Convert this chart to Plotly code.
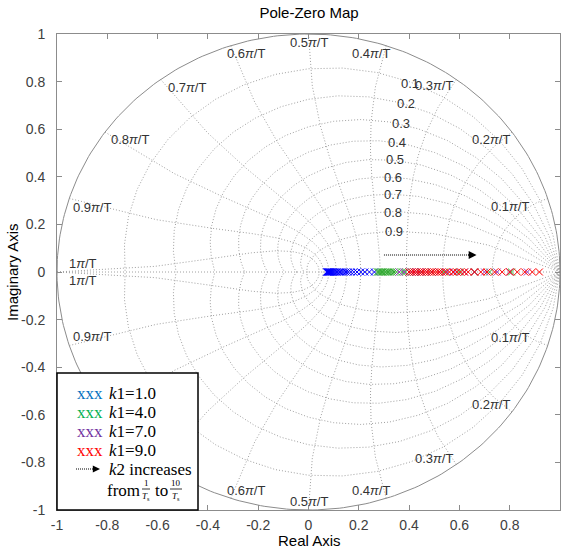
import numpy as np
import plotly.graph_objects as go

# ---------------- data ----------------
k1_labels = ["k1=1.0", "k1=4.0", "k1=7.0", "k1=9.0"]
poles_k1_1 = [0.072, 0.074, 0.076, 0.078, 0.080, 0.082, 0.084, 0.086, 0.089, 0.092,
              0.095, 0.099, 0.103, 0.108, 0.113, 0.119, 0.125, 0.132, 0.140, 0.149,
              0.158, 0.168, 0.180, 0.193, 0.208, 0.224, 0.242, 0.262]
poles_k1_4 = [0.274, 0.278, 0.282, 0.287, 0.292, 0.297, 0.303, 0.309, 0.316, 0.323,
              0.331, 0.340, 0.350, 0.361, 0.373, 0.386, 0.400, 0.420, 0.450, 0.490,
              0.540, 0.600, 0.660, 0.720, 0.807]
poles_k1_7 = [0.360, 0.380, 0.400, 0.410, 0.420, 0.430, 0.440, 0.450, 0.470, 0.490,
              0.520, 0.550, 0.580, 0.620, 0.660, 0.700, 0.750, 0.800, 0.870]
poles_k1_9 = [0.400, 0.410, 0.420, 0.430, 0.440, 0.450, 0.460, 0.470, 0.480, 0.490,
              0.500, 0.510, 0.520, 0.530, 0.545, 0.560, 0.575, 0.590, 0.605, 0.620,
              0.635, 0.660, 0.685, 0.710, 0.740, 0.770, 0.800, 0.830, 0.860, 0.890, 0.918]
marker_colors = ["#0000FF", "#33AA33", "#A040C0", "#FF0000"]
legend_colors = ["#0070C0", "#00B050", "#7030A0", "#FF0000"]

tick_vals = [-1, -0.8, -0.6, -0.4, -0.2, 0, 0.2, 0.4, 0.6, 0.8, 1]
tick_text = ["-1", "-0.8", "-0.6", "-0.4", "-0.2", "0", "0.2", "0.4", "0.6", "0.8", "1"]

zeta_vals = [0.1, 0.2, 0.3, 0.4, 0.5, 0.6, 0.7, 0.8, 0.9]
wn_vals = [0.1, 0.2, 0.3, 0.4, 0.5, 0.6, 0.7, 0.8, 0.9, 1.0]
wn_texts = ["0.1", "0.2", "0.3", "0.4", "0.5", "0.6", "0.7", "0.8", "0.9", "1"]

# label positions (data coords, upper half; lower half mirrored)
wn_label_pos = [(0.801, 0.277), (0.726, 0.555), (0.498, 0.782), (0.249, 0.920),
                (0.002, 0.966), (-0.249, 0.920), (-0.483, 0.777), (-0.710, 0.555),
                (-0.861, 0.273), (-0.897, 0.034)]
zeta_label_pos = [(0.404, 0.794), (0.388, 0.710), (0.368, 0.626), (0.352, 0.546),
                  (0.344, 0.471), (0.336, 0.399), (0.336, 0.324), (0.336, 0.248),
                  (0.340, 0.172)]

# ---------------- layout constants ----------------
W, H = 563, 549
ML, MR, MT, MB = 57, 3, 34, 39
PW, PH = W - ML - MR, H - MT - MB

# legend box (pixels)
BOX_L, BOX_R, BOX_T, BOX_B = 57, 198, 373, 510


def pxx(px):
    return (px - ML) / PW


def pxy(py):
    return (H - MB - py) / PH


def to_px(x, y):
    return ML + (x + 1) / 2 * PW, MT + (1 - y) / 2 * PH


GRID = "#A0A0A0"
fig = go.Figure()

# ---------------- zgrid ----------------
gx, gy = [], []
theta = np.arange(0, 21) * np.pi / 20
for z in zeta_vals:
    m = z / np.sqrt(1 - z ** 2)
    zz = np.exp(theta * (-m + 1j))
    gx += list(zz.real) + [None] + list(zz.real) + [None]
    gy += list(zz.imag) + [None] + list(-zz.imag) + [None]
phi = np.pi / 2 + np.arange(0, 11) * np.pi / 20
for w in wn_vals:
    zz = np.exp(w * np.pi * np.exp(1j * phi))
    gx += list(zz.real) + [None] + list(zz.real) + [None]
    gy += list(zz.imag) + [None] + list(-zz.imag) + [None]
gx += [-1, 1, None]
gy += [0, 0, None]
fig.add_trace(go.Scatter(x=gx, y=gy, mode="lines", hoverinfo="skip", showlegend=False,
                         line=dict(color=GRID, width=1, dash="1px,2px")))
t = np.linspace(0, 2 * np.pi, 361)
fig.add_trace(go.Scatter(x=np.cos(t), y=np.sin(t), mode="lines", hoverinfo="skip",
                         showlegend=False, line=dict(color="#8C8C8C", width=1)))

# ---------------- poles ----------------
for vals, col, lab in zip([poles_k1_1, poles_k1_4, poles_k1_7, poles_k1_9], marker_colors, k1_labels):
    fig.add_trace(go.Scatter(x=vals, y=[0] * len(vals), mode="markers", name=lab, showlegend=False,
                             marker=dict(symbol="x-thin", size=7, line=dict(color=col, width=1))))

ann = []
FONT = "Liberation Sans, Arial, sans-serif"
SERIF = "Liberation Serif, Times New Roman, serif"
for (x, y), tx in zip(wn_label_pos, wn_texts):
    for sgn in (1, -1):
        px, py = to_px(x, sgn * y)
        if BOX_L - 5 <= px <= BOX_R + 5 and py >= BOX_T - 3:
            continue  # hidden behind the legend box in the reference
        ann.append(dict(x=x, y=sgn * y, xref="x", yref="y", text=tx + "<i>π</i>/T", showarrow=False,
                        font=dict(family=FONT, size=13, color="#333333"), xanchor="center", yanchor="middle"))
for (x, y), z in zip(zeta_label_pos, zeta_vals):
    ann.append(dict(x=x, y=y, xref="x", yref="y", text=f"{z:.1f}", showarrow=False,
                    font=dict(family=FONT, size=13, color="#333333"), xanchor="center", yanchor="middle"))

# arrow in plot
fig.add_shape(type="line", x0=0.30, x1=0.655, y0=0.0714, y1=0.0714, xref="x", yref="y",
              line=dict(color="black", width=1, dash="1px,1px"))
ann.append(dict(x=0.668, y=0.0714, xref="x", yref="y", ax=-10, ay=0, axref="pixel", ayref="pixel",
                text="", showarrow=True, arrowhead=2, arrowsize=1.3, arrowwidth=1.2, arrowcolor="black"))

# ---------------- custom legend box ----------------
fig.add_shape(type="rect", xref="paper", yref="paper", x0=pxx(BOX_L), x1=pxx(BOX_R), y0=pxy(BOX_B),
              y1=pxy(BOX_T), fillcolor="white", line=dict(color="black", width=1.5), layer="above")
row_y = [393, 412, 431, 450]
for yy, col, lab in zip(row_y, legend_colors, k1_labels):
    ann.append(dict(x=pxx(75), y=pxy(yy), xref="paper", yref="paper", text="xxx", showarrow=False,
                    font=dict(family=SERIF, size=17, color=col), xanchor="left", yanchor="middle"))
    ann.append(dict(x=pxx(107), y=pxy(yy), xref="paper", yref="paper",
                    text="<i>k</i>" + lab[1:], showarrow=False,
                    font=dict(family=SERIF, size=17, color="black"), xanchor="left", yanchor="middle"))
fig.add_shape(type="line", xref="paper", yref="paper", x0=pxx(76), x1=pxx(93), y0=pxy(469), y1=pxy(469),
              line=dict(color="black", width=1, dash="1px,1px"), layer="above")
ann.append(dict(x=pxx(100), y=pxy(469), xref="paper", yref="paper", ax=-8, ay=0, axref="pixel", ayref="pixel",
                text="", showarrow=True, arrowhead=2, arrowsize=1.2, arrowwidth=1.2, arrowcolor="black"))
ann.append(dict(x=pxx(107), y=pxy(469), xref="paper", yref="paper", text="<i>k</i>2 increases",
                showarrow=False, font=dict(family=SERIF, size=17, color="black"),
                xanchor="left", yanchor="middle"))
ann.append(dict(x=pxx(105), y=pxy(490), xref="paper", yref="paper", text="from", showarrow=False,
                font=dict(family=SERIF, size=17, color="black"), xanchor="left", yanchor="middle"))
ann.append(dict(x=pxx(153), y=pxy(490), xref="paper", yref="paper", text="to", showarrow=False,
                font=dict(family=SERIF, size=17, color="black"), xanchor="left", yanchor="middle"))
for cx, num, half in [(146, "1", 4), (176, "10", 6)]:
    ann.append(dict(x=pxx(cx), y=pxy(483), xref="paper", yref="paper", text=num, showarrow=False,
                    font=dict(family=SERIF, size=9, color="black"), xanchor="center", yanchor="middle"))
    ann.append(dict(x=pxx(cx), y=pxy(496), xref="paper", yref="paper", text="<i>T</i><sub>s</sub>",
                    showarrow=False, font=dict(family=SERIF, size=9, color="black"),
                    xanchor="center", yanchor="middle"))
    fig.add_shape(type="line", xref="paper", yref="paper", x0=pxx(cx - half), x1=pxx(cx + half),
                  y0=pxy(489), y1=pxy(489), line=dict(color="black", width=0.8), layer="above")

# axis titles
ann.append(dict(x=pxx(309), y=pxy(540), xref="paper", yref="paper", text="Real Axis", showarrow=False,
                font=dict(family=FONT, size=15, color="black"), xanchor="center", yanchor="middle"))
ann.append(dict(x=pxx(12), y=pxy(272), xref="paper", yref="paper", text="Imaginary Axis", showarrow=False,
                textangle=-90, font=dict(family=FONT, size=15, color="black"),
                xanchor="center", yanchor="middle"))

axis_common = dict(range=[-1, 1], tickvals=tick_vals, ticktext=tick_text, ticks="inside", ticklen=5,
                   tickcolor="#8C8C8C", showline=True, linecolor="#8C8C8C", linewidth=1, mirror="ticks",
                   showgrid=False, zeroline=False, fixedrange=True, automargin=False,
                   tickfont=dict(family=FONT, size=14, color="#404040"))
fig.update_layout(
    width=W, height=H, margin=dict(l=ML, r=MR, t=MT, b=MB, autoexpand=False),
    paper_bgcolor="white", plot_bgcolor="white",
    title=dict(text="Pole-Zero Map", x=pxx(309), xref="paper", xanchor="center",
               y=1 - 13 / H, yref="container", yanchor="middle",
               font=dict(family=FONT, size=15, color="black")),
    xaxis=dict(**axis_common, ticklabelstandoff=2),
    yaxis=dict(**axis_common, ticklabelstandoff=8),
    annotations=ann, showlegend=False,
)
fig.write_html("out.html", config={"displayModeBar": False},
               post_script="document.body.style.margin='0';document.body.style.overflow='hidden';")
